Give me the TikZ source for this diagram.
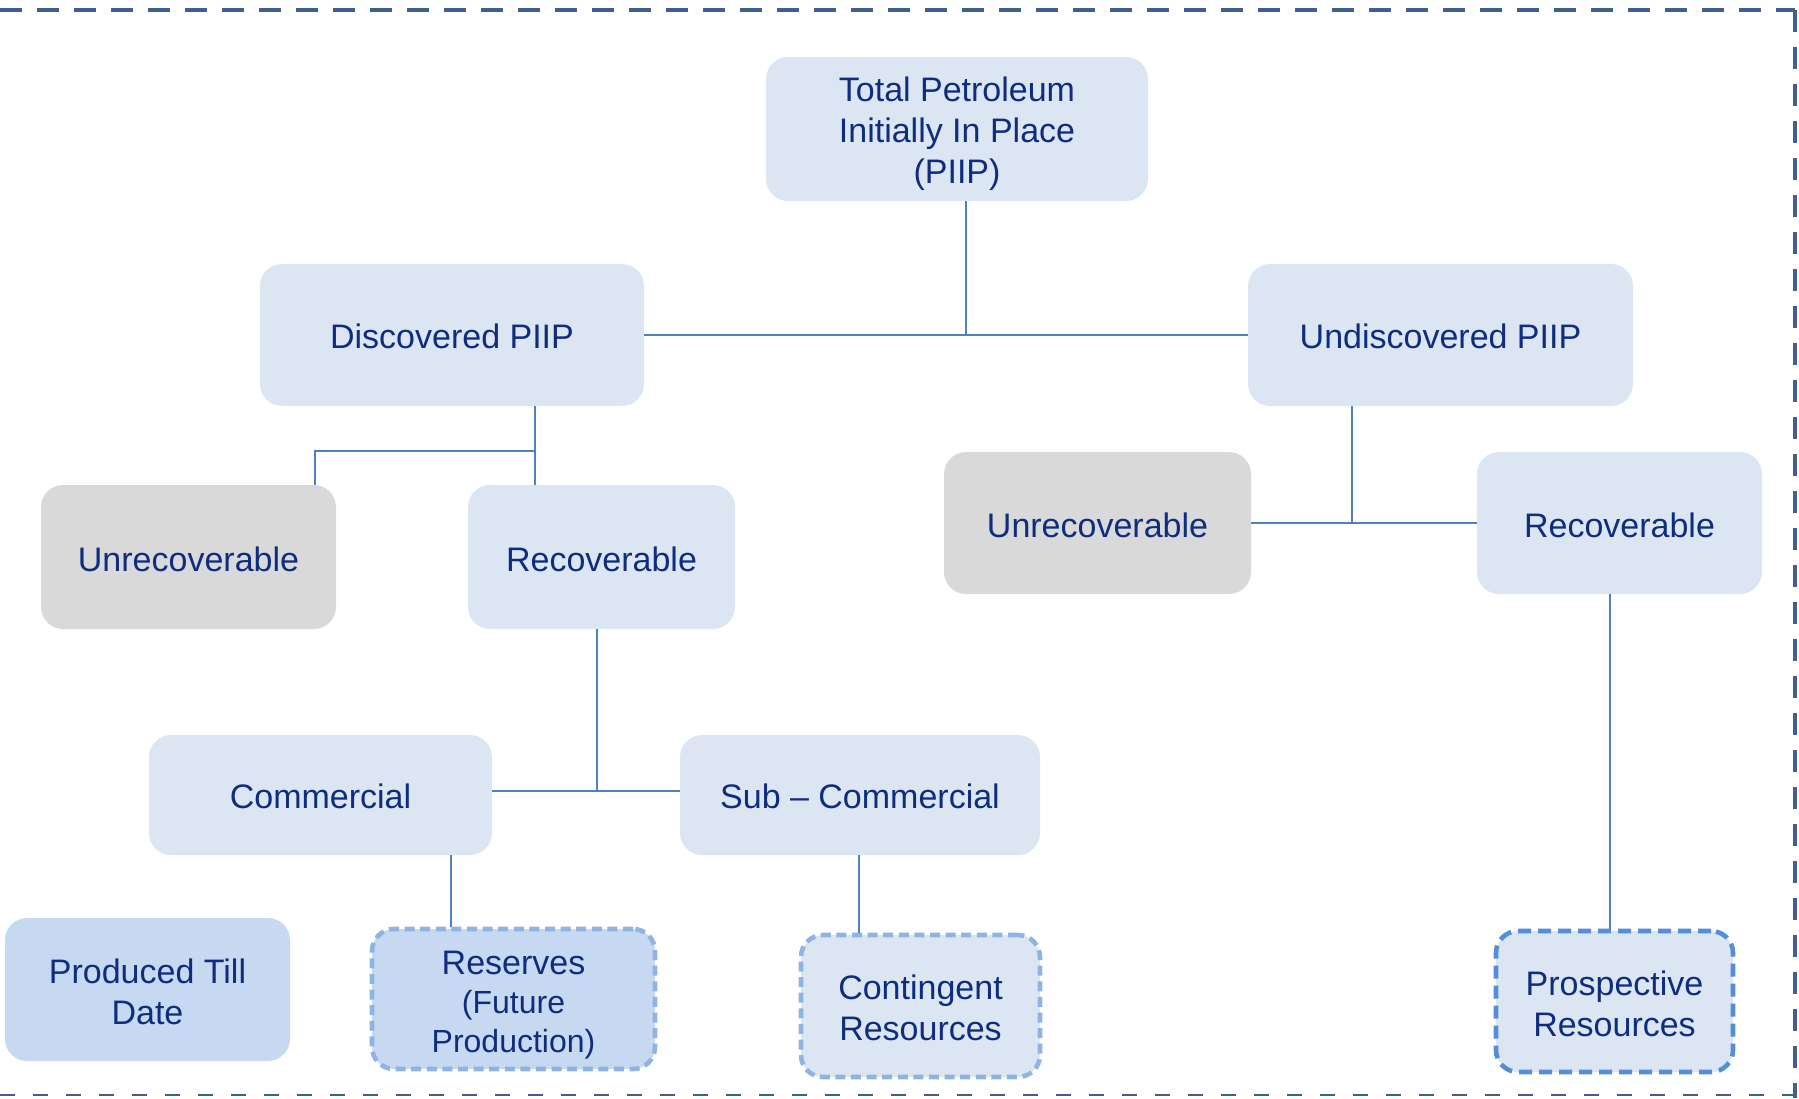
\documentclass[tikz,border=0pt]{standalone}
\usepackage{fontspec}
\setmainfont{Liberation Sans}
\definecolor{boxblue}{HTML}{DCE6F2}
\definecolor{boxdark}{HTML}{C6D9F1}
\definecolor{boxgray}{HTML}{D9D9D9}
\definecolor{txt}{HTML}{0E2D7E}
\definecolor{conncol}{HTML}{4F81BD}
\definecolor{framecol}{HTML}{3E5F8F}
\definecolor{dashlight}{HTML}{8DB4E2}
\definecolor{dashdark}{HTML}{558ED5}
\newcommand{\lift}[1]{\rule{0pt}{#1}}
\tikzset{
  box/.style={rectangle, rounded corners=11pt, fill=boxblue, draw=none, text=txt,
    font=\fontsize{17}{20.5}\selectfont, align=center, inner sep=0pt},
  graybox/.style={box, fill=boxgray},
  darkbox/.style={box, fill=boxdark},
  lightdash/.style={draw=dashlight, line width=2.3pt, dash pattern=on 5pt off 2.8pt},
  darkdash/.style={draw=dashdark, line width=2.3pt, dash pattern=on 6.5pt off 3.5pt},
  conn/.style={draw=conncol, line width=0.85pt},
  framethick/.style={draw=framecol, line width=2pt, dash pattern=on 11pt off 7.5pt},
  framethin/.style={draw=framecol, line width=1pt, dash pattern=on 7.5pt off 9pt},
}
\begin{document}
\begin{tikzpicture}[x=0.5pt,y=-0.5pt]
\useasboundingbox (0,0) rectangle (1799,1098);
% outer frame
\coordinate (fTL) at (0,10);
\coordinate (fTR) at (1795,10);
\coordinate (fBR) at (1795,1098);
\coordinate (fBL) at (0,1095);
\draw[framethick] (fTL) -- (fTR);
\draw[framethick] (fTR) -- (fBR);
\draw[framethin] (fBL) -- (fBL -| fTR);

% nodes
\node[box, minimum width=191pt, minimum height=72pt] (tot) at (957,129) {\lift{16.9pt}Total Petroleum\\Initially In Place\\(PIIP)};
\node[box, minimum width=192pt, minimum height=71pt] (disc) at (452,335) {\lift{13.4pt}Discovered PIIP};
\node[box, minimum width=192.5pt, minimum height=71pt] (undisc) at (1440.5,335) {\lift{13.4pt}Undiscovered PIIP};
\node[graybox, minimum width=147.5pt, minimum height=72pt] (unrecL) at (188.5,557) {\lift{14.3pt}Unrecoverable};
\node[box, minimum width=133.5pt, minimum height=72pt] (recL) at (601.5,557) {\lift{14.3pt}Recoverable};
\node[graybox, minimum width=153.5pt, minimum height=71pt] (unrecR) at (1097.5,523) {\lift{14.3pt}Unrecoverable};
\node[box, minimum width=142.5pt, minimum height=71pt] (recR) at (1619.5,523) {\lift{14.3pt}Recoverable};
\node[box, minimum width=171.5pt, minimum height=60pt] (comm) at (320.5,795) {\lift{13.4pt}Commercial};
\node[box, minimum width=180pt, minimum height=60pt] (subc) at (860,795) {\lift{13.4pt}Sub -- Commercial};
\node[darkbox, minimum width=142.5pt, minimum height=71.5pt] (prod) at (147.5,989.5) {\lift{14.3pt}Produced Till\\Date};
\node[darkbox, lightdash, minimum width=141.5pt, minimum height=70pt, font=\fontsize{17}{19.5}\selectfont] (res) at (513.5,999) {\lift{18.1pt}Reserves\\{\fontsize{16}{19.5}\selectfont(Future}\\{\fontsize{16}{19.5}\selectfont Production)}};
\node[box, lightdash, minimum width=119.5pt, minimum height=71pt] (cont) at (920.5,1006) {\lift{14.3pt}Contingent\\Resources};
\node[box, darkdash, minimum width=118.5pt, minimum height=70.5pt] (prosp) at (1614.5,1001.5) {\lift{14.3pt}Prospective\\Resources};

% connectors
\coordinate (jA) at (966,335);
\draw[conn] (disc.east) -- (undisc.west);
\draw[conn] (jA |- tot.south) -- (jA);

\coordinate (jB) at (535,451);
\coordinate (jC) at (315,451);
\draw[conn] (jB |- disc.south) -- (jB |- recL.north);
\draw[conn] (jB) -- (jC) -- (jC |- unrecL.north);

\coordinate (jD) at (1352,523);
\draw[conn] (unrecR.east) -- (recR.west);
\draw[conn] (jD |- undisc.south) -- (jD);

\coordinate (jE) at (1610,0);
\draw[conn] (jE |- recR.south) -- (jE |- prosp.north);

\coordinate (jF) at (597,791);
\draw[conn] (comm.east |- jF) -- (subc.west |- jF);
\draw[conn] (jF |- recL.south) -- (jF);

\coordinate (jG) at (451,0);
\draw[conn] (jG |- comm.south) -- (jG |- res.north);

\coordinate (jH) at (859,0);
\draw[conn] (jH |- subc.south) -- (jH |- cont.north);
\end{tikzpicture}
\end{document}
